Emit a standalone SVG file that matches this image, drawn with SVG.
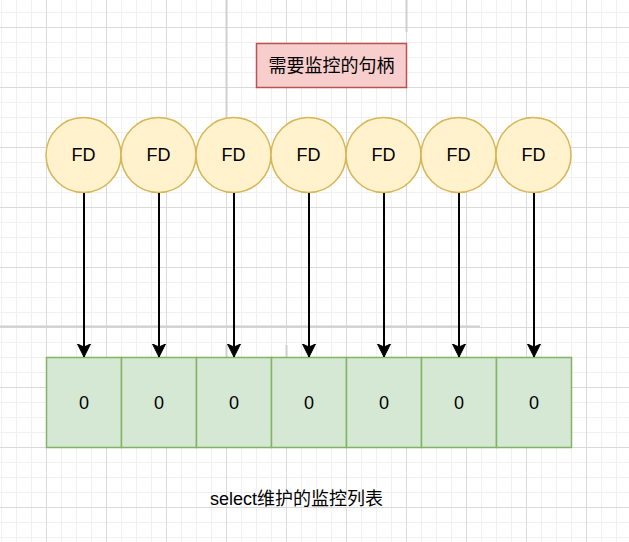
<svg xmlns="http://www.w3.org/2000/svg" width="629" height="542" viewBox="0 0 629 542">
<style>
.fd circle{fill:#fff2cc;stroke:#d6b656;stroke-width:1.5}
.cell rect{fill:#d5e8d4;stroke:#82b366;stroke-width:1.5}
text{font-family:"Liberation Sans","Noto Sans CJK SC",sans-serif;font-size:18px;fill:#000;text-anchor:middle;dominant-baseline:central}
.edge{stroke:#000;stroke-width:2;fill:none;marker-end:url(#arr)}
.pb{stroke:#d0d0d0;stroke-width:2;fill:none}
</style>
<defs>
<pattern id="grid" patternUnits="userSpaceOnUse" x="46" y="27" width="60" height="60">
<path d="M15.5 0V60M30.5 0V60M45.5 0V60M0 15.5H60M0 30.5H60M0 45.5H60" stroke="#f0f0f0" stroke-width="1" fill="none"/>
<path d="M0.5 0V60M0 0.5H60" stroke="#dadada" stroke-width="1" fill="none"/>
</pattern>
<marker id="arr" markerUnits="userSpaceOnUse" markerWidth="16" markerHeight="16" refX="13" refY="7" orient="auto">
<path d="M0 0.5L13 7L0 13.5L3 7Z" fill="#000" stroke="#000" stroke-width="1"/>
</marker>
</defs>
<rect width="629" height="542" fill="#fff"/>
<rect width="629" height="542" fill="url(#grid)"/>
<path class="pb" d="M226.5 0V118M406.5 0V32M0 326.5H480M226.5 345V357M286.5 345V357"/>

<g id="title">
<rect x="256.5" y="43.5" width="150" height="44" fill="#f8cecc" stroke="#b85450" stroke-width="1.5"/>
<text x="331.5" y="65.5">需要监控的句柄</text>
</g>

<g id="fd1" class="fd"><circle cx="83.5" cy="155" r="37.5"/><text x="83.5" y="155">FD</text></g>
<g id="fd2" class="fd"><circle cx="158.5" cy="155" r="37.5"/><text x="158.5" y="155">FD</text></g>
<g id="fd3" class="fd"><circle cx="233.5" cy="155" r="37.5"/><text x="233.5" y="155">FD</text></g>
<g id="fd4" class="fd"><circle cx="308.5" cy="155" r="37.5"/><text x="308.5" y="155">FD</text></g>
<g id="fd5" class="fd"><circle cx="383.5" cy="155" r="37.5"/><text x="383.5" y="155">FD</text></g>
<g id="fd6" class="fd"><circle cx="458.5" cy="155" r="37.5"/><text x="458.5" y="155">FD</text></g>
<g id="fd7" class="fd"><circle cx="533.5" cy="155" r="37.5"/><text x="533.5" y="155">FD</text></g>

<g id="cell1" class="cell"><rect x="46.5" y="357.5" width="75" height="90"/><text x="84" y="402.5">0</text></g>
<g id="cell2" class="cell"><rect x="121.5" y="357.5" width="75" height="90"/><text x="159" y="402.5">0</text></g>
<g id="cell3" class="cell"><rect x="196.5" y="357.5" width="75" height="90"/><text x="234" y="402.5">0</text></g>
<g id="cell4" class="cell"><rect x="271.5" y="357.5" width="75" height="90"/><text x="309" y="402.5">0</text></g>
<g id="cell5" class="cell"><rect x="346.5" y="357.5" width="75" height="90"/><text x="384" y="402.5">0</text></g>
<g id="cell6" class="cell"><rect x="421.5" y="357.5" width="75" height="90"/><text x="459" y="402.5">0</text></g>
<g id="cell7" class="cell"><rect x="496.5" y="357.5" width="75" height="90"/><text x="534" y="402.5">0</text></g>

<g id="connectors">
<path class="edge" d="M84 193V357"/>
<path class="edge" d="M159 193V357"/>
<path class="edge" d="M234 193V357"/>
<path class="edge" d="M309 193V357"/>
<path class="edge" d="M384 193V357"/>
<path class="edge" d="M459 193V357"/>
<path class="edge" d="M534 193V357"/>
</g>

<g id="caption">
<text x="296.5" y="499">select维护的监控列表</text>
</g>
</svg>
